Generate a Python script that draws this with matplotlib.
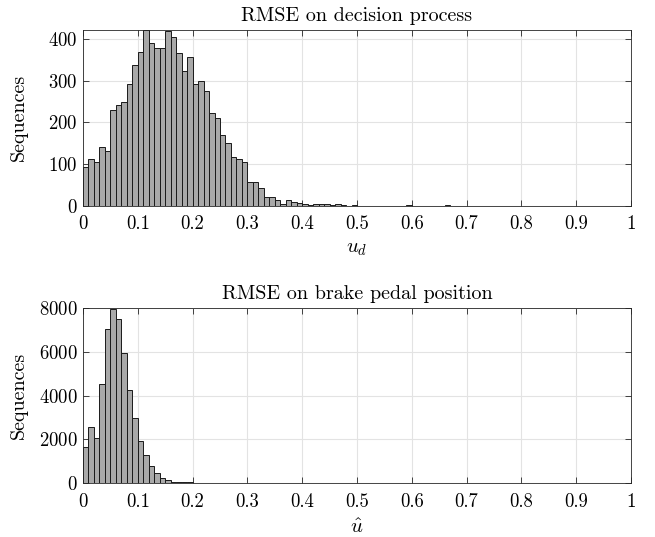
import numpy as np
import matplotlib
matplotlib.use("Agg")
import matplotlib.pyplot as plt

plt.rcParams['font.family'] = 'cmr10'
plt.rcParams['mathtext.fontset'] = 'cm'
plt.rcParams['axes.formatter.use_mathtext'] = True

bin_width = 0.01

# counts per 0.01 bin, RMSE on decision process
counts_ud = [92, 111, 106, 141, 131, 229, 242, 248, 292, 338,
             370, 423, 390, 378, 378, 420, 405, 366, 323, 358,
             291, 300, 276, 223, 210, 170, 151, 117, 111, 104,
             58, 56, 43, 20, 20, 13, 3, 14, 8, 6,
             3, 1, 3, 3, 3, 1, 3, 1, 0, 1,
             0, 0, 0, 0, 0, 0, 0, 0, 0, 2,
             0, 0, 0, 0, 0, 0, 2]

# counts per 0.01 bin, RMSE on brake pedal position
counts_u = [1672, 2570, 2067, 4530, 7022, 7934, 7478, 5928, 4241, 2994,
            1915, 1277, 790, 456, 228, 152, 76, 46, 46, 40,
            36, 33, 30, 27, 25, 22, 20, 18, 16, 15,
            14, 13, 12, 11, 10, 9, 8, 8, 7, 7,
            6, 6, 5, 5, 4, 4, 4, 3, 3, 3,
            2, 2]

titles = ['RMSE on decision process', 'RMSE on brake pedal position']
xlabels = [r'$u_d$', r'$\hat{u}$']
ylims = [423, 8000]
yticks = [[0, 100, 200, 300, 400], [0, 2000, 4000, 6000, 8000]]

fig = plt.figure(figsize=(6.55, 5.37), dpi=100)
ax1 = fig.add_axes([0.1267, 0.617, 0.8367, 0.328])
ax2 = fig.add_axes([0.1267, 0.100, 0.8367, 0.327])

for ax, counts, title, xl, ylim, yt in zip([ax1, ax2], [counts_ud, counts_u], titles, xlabels, ylims, yticks):
    edges = np.arange(len(counts)) * bin_width
    ax.bar(edges, counts, width=bin_width, align='edge', color='#a9a9a9',
           edgecolor='#1a1a1a', linewidth=0.7, zorder=2)
    ax.set_xlim(0, 1)
    ax.set_ylim(0, ylim)
    ax.set_xticks(np.arange(0, 1.01, 0.1))
    ax.set_xticklabels(['0'] + ['%.1f' % v for v in np.arange(0.1, 0.95, 0.1)] + ['1'])
    ax.set_yticks(yt)
    ax.grid(True, color='#e3e3e3', linewidth=0.8, zorder=0)
    ax.set_axisbelow(True)
    ax.tick_params(direction='in', top=True, right=True, length=4, width=0.6,
                   color='#262626', labelsize=13.5)
    ax.tick_params(axis='y', pad=4)
    ax.tick_params(axis='x', pad=7)
    for s in ax.spines.values():
        s.set_color('#262626')
        s.set_linewidth(0.6)
    ax.set_title(title, fontsize=14.5, pad=6)
    ax.set_xlabel(xl, fontsize=15, labelpad=5)
    ax.set_ylabel('Sequences', fontsize=14.5)
    ax.yaxis.set_label_coords(-0.1, 0.5)

fig.savefig('out.png', dpi=100)
